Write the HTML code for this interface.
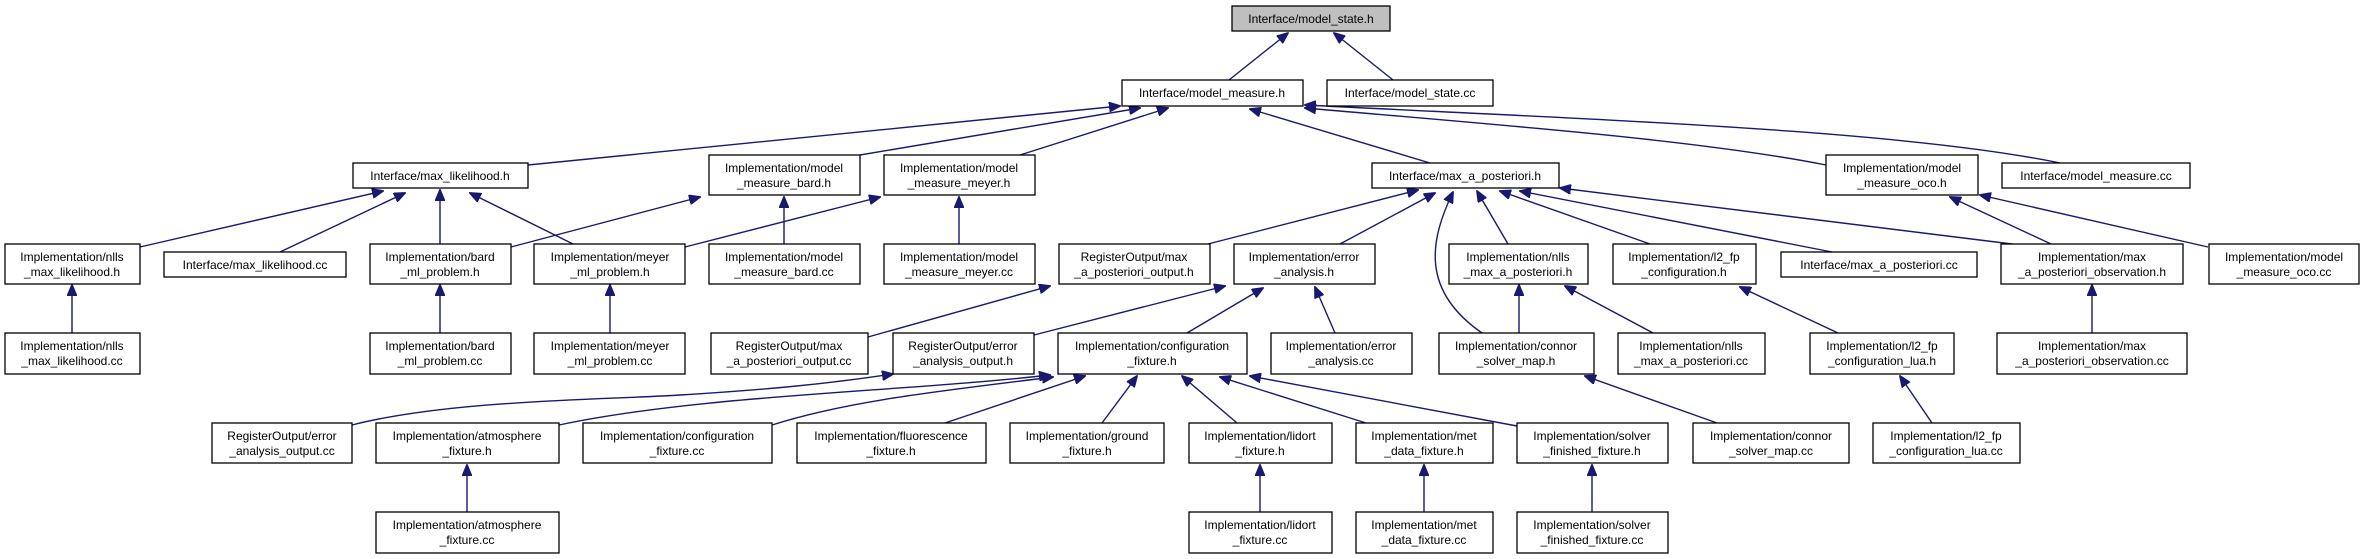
<!DOCTYPE html>
<html><head><meta charset="utf-8"><style>
html,body{margin:0;padding:0;background:#fff;}
svg{display:block;}
text{font-family:"Liberation Sans",sans-serif;font-size:12px;fill:#000;text-anchor:middle;}
rect{fill:#fff;stroke:#000;stroke-width:1.3;}
.e{fill:none;stroke:#191970;stroke-width:1.4;}
</style></head><body>
<svg width="2361" height="559" viewBox="0 0 2361 559" xmlns="http://www.w3.org/2000/svg">
<defs><marker id="a" markerWidth="12" markerHeight="10" refX="11" refY="5" orient="auto" markerUnits="userSpaceOnUse"><path d="M0,0 L12,5 L0,10 z" fill="#191970" stroke="#191970"/></marker></defs>
<g class="edges">
<path class="e" marker-end="url(#a)" d="M1229,80 L1288,33"/>
<path class="e" marker-end="url(#a)" d="M1393,80 L1334,33"/>
<path class="e" marker-end="url(#a)" d="M528,165 L1120,106"/>
<path class="e" marker-end="url(#a)" d="M860,155 L1140,108"/>
<path class="e" marker-end="url(#a)" d="M1020,155 L1168,108"/>
<path class="e" marker-end="url(#a)" d="M1430,163 L1250,109"/>
<path class="e" marker-end="url(#a)" d="M1826,165 C1700,140 1500,125 1305,108"/>
<path class="e" marker-end="url(#a)" d="M2060,163 C1900,130 1600,120 1305,105"/>
<path class="e" marker-end="url(#a)" d="M140,247 L383,191"/>
<path class="e" marker-end="url(#a)" d="M280,252 L405,193"/>
<path class="e" marker-end="url(#a)" d="M440,244 L440,190"/>
<path class="e" marker-end="url(#a)" d="M573,244 L470,193"/>
<path class="e" marker-end="url(#a)" d="M511,247 L700,197"/>
<path class="e" marker-end="url(#a)" d="M784,244 L784,197"/>
<path class="e" marker-end="url(#a)" d="M685,247 L880,197"/>
<path class="e" marker-end="url(#a)" d="M959,244 L959,197"/>
<path class="e" marker-end="url(#a)" d="M1208,244 L1418,190"/>
<path class="e" marker-end="url(#a)" d="M1340,244 L1435,193"/>
<path class="e" marker-end="url(#a)" d="M1482,333 C1420,290 1430,240 1453,192"/>
<path class="e" marker-end="url(#a)" d="M1508,244 L1477,191"/>
<path class="e" marker-end="url(#a)" d="M1650,244 L1500,191"/>
<path class="e" marker-end="url(#a)" d="M1832,252 L1520,191"/>
<path class="e" marker-end="url(#a)" d="M2020,245 L1560,188"/>
<path class="e" marker-end="url(#a)" d="M72,333 L72,285"/>
<path class="e" marker-end="url(#a)" d="M440,333 L440,285"/>
<path class="e" marker-end="url(#a)" d="M610,333 L610,285"/>
<path class="e" marker-end="url(#a)" d="M868,337 L1050,286"/>
<path class="e" marker-end="url(#a)" d="M1034,335 L1225,286"/>
<path class="e" marker-end="url(#a)" d="M1187,333 L1263,288"/>
<path class="e" marker-end="url(#a)" d="M1335,333 L1315,287"/>
<path class="e" marker-end="url(#a)" d="M1519,333 L1519,285"/>
<path class="e" marker-end="url(#a)" d="M1653,333 L1565,286"/>
<path class="e" marker-end="url(#a)" d="M1838,333 L1740,287"/>
<path class="e" marker-end="url(#a)" d="M2092,333 L2092,285"/>
<path class="e" marker-end="url(#a)" d="M2051,244 L1950,197"/>
<path class="e" marker-end="url(#a)" d="M2208,247 L1980,195"/>
<path class="e" marker-end="url(#a)" d="M352,425 C450,400 600,400 680,395 C760,390 820,385 893,374"/>
<path class="e" marker-end="url(#a)" d="M559,425 C700,395 900,392 1050,375"/>
<path class="e" marker-end="url(#a)" d="M772,425 C850,400 950,390 1053,377"/>
<path class="e" marker-end="url(#a)" d="M945,423 L1085,376"/>
<path class="e" marker-end="url(#a)" d="M1102,423 L1137,376"/>
<path class="e" marker-end="url(#a)" d="M1237,423 L1182,376"/>
<path class="e" marker-end="url(#a)" d="M1366,423 L1220,377"/>
<path class="e" marker-end="url(#a)" d="M1517,426 L1250,376"/>
<path class="e" marker-end="url(#a)" d="M1717,423 L1585,376"/>
<path class="e" marker-end="url(#a)" d="M1932,423 L1900,376"/>
<path class="e" marker-end="url(#a)" d="M467,512 L467,465"/>
<path class="e" marker-end="url(#a)" d="M1260,512 L1260,465"/>
<path class="e" marker-end="url(#a)" d="M1424,512 L1424,465"/>
<path class="e" marker-end="url(#a)" d="M1592,512 L1592,465"/>
</g>
<!-- Row 0 -->
<rect x="1232" y="6" width="158" height="25" style="fill:#bfbfbf"/><text x="1311" y="23">Interface/model_state.h</text>
<!-- Row 1 -->
<rect x="1122" y="80" width="181" height="26"/><text x="1212" y="97">Interface/model_measure.h</text>
<rect x="1327" y="80" width="166" height="26"/><text x="1410" y="97">Interface/model_state.cc</text>
<!-- Row 2 -->
<rect x="353" y="163" width="175" height="25"/><text x="440" y="180">Interface/max_likelihood.h</text>
<rect x="709" y="155" width="151" height="40"/><text x="784" y="172">Implementation/model</text><text x="784" y="187">_measure_bard.h</text>
<rect x="884" y="155" width="151" height="40"/><text x="959" y="172">Implementation/model</text><text x="959" y="187">_measure_meyer.h</text>
<rect x="1372" y="163" width="187" height="25"/><text x="1465" y="180">Interface/max_a_posteriori.h</text>
<rect x="1826" y="155" width="152" height="40"/><text x="1902" y="172">Implementation/model</text><text x="1902" y="187">_measure_oco.h</text>
<rect x="2002" y="163" width="188" height="25"/><text x="2096" y="180">Interface/model_measure.cc</text>
<!-- Row 3 -->
<rect x="5" y="244" width="135" height="40"/><text x="72" y="261">Implementation/nlls</text><text x="72" y="276">_max_likelihood.h</text>
<rect x="164" y="252" width="182" height="25"/><text x="255" y="269">Interface/max_likelihood.cc</text>
<rect x="370" y="244" width="141" height="40"/><text x="440" y="261">Implementation/bard</text><text x="440" y="276">_ml_problem.h</text>
<rect x="534" y="244" width="151" height="40"/><text x="610" y="261">Implementation/meyer</text><text x="610" y="276">_ml_problem.h</text>
<rect x="709" y="244" width="151" height="40"/><text x="784" y="261">Implementation/model</text><text x="784" y="276">_measure_bard.cc</text>
<rect x="884" y="244" width="151" height="40"/><text x="959" y="261">Implementation/model</text><text x="959" y="276">_measure_meyer.cc</text>
<rect x="1059" y="244" width="151" height="40"/><text x="1134" y="261">RegisterOutput/max</text><text x="1134" y="276">_a_posteriori_output.h</text>
<rect x="1234" y="244" width="141" height="40"/><text x="1304" y="261">Implementation/error</text><text x="1304" y="276">_analysis.h</text>
<rect x="1449" y="244" width="139" height="40"/><text x="1518" y="261">Implementation/nlls</text><text x="1518" y="276">_max_a_posteriori.h</text>
<rect x="1613" y="244" width="143" height="40"/><text x="1684" y="261">Implementation/l2_fp</text><text x="1684" y="276">_configuration.h</text>
<rect x="1781" y="252" width="196" height="25"/><text x="1879" y="269">Interface/max_a_posteriori.cc</text>
<rect x="2001" y="244" width="182" height="40"/><text x="2092" y="261">Implementation/max</text><text x="2092" y="276">_a_posteriori_observation.h</text>
<rect x="2209" y="244" width="150" height="40"/><text x="2284" y="261">Implementation/model</text><text x="2284" y="276">_measure_oco.cc</text>
<!-- Row 4 -->
<rect x="5" y="333" width="135" height="41"/><text x="72" y="350">Implementation/nlls</text><text x="72" y="365">_max_likelihood.cc</text>
<rect x="370" y="333" width="141" height="41"/><text x="440" y="350">Implementation/bard</text><text x="440" y="365">_ml_problem.cc</text>
<rect x="534" y="333" width="151" height="41"/><text x="610" y="350">Implementation/meyer</text><text x="610" y="365">_ml_problem.cc</text>
<rect x="711" y="333" width="157" height="41"/><text x="789" y="350">RegisterOutput/max</text><text x="789" y="365">_a_posteriori_output.cc</text>
<rect x="893" y="333" width="141" height="41"/><text x="963" y="350">RegisterOutput/error</text><text x="963" y="365">_analysis_output.h</text>
<rect x="1058" y="333" width="189" height="41"/><text x="1152" y="350">Implementation/configuration</text><text x="1152" y="365">_fixture.h</text>
<rect x="1271" y="333" width="141" height="41"/><text x="1341" y="350">Implementation/error</text><text x="1341" y="365">_analysis.cc</text>
<rect x="1439" y="333" width="155" height="41"/><text x="1516" y="350">Implementation/connor</text><text x="1516" y="365">_solver_map.h</text>
<rect x="1618" y="333" width="147" height="41"/><text x="1691" y="350">Implementation/nlls</text><text x="1691" y="365">_max_a_posteriori.cc</text>
<rect x="1810" y="333" width="144" height="41"/><text x="1882" y="350">Implementation/l2_fp</text><text x="1882" y="365">_configuration_lua.h</text>
<rect x="1997" y="333" width="190" height="41"/><text x="2092" y="350">Implementation/max</text><text x="2092" y="365">_a_posteriori_observation.cc</text>
<!-- Row 5 -->
<rect x="212" y="423" width="140" height="40"/><text x="282" y="440">RegisterOutput/error</text><text x="282" y="455">_analysis_output.cc</text>
<rect x="376" y="423" width="183" height="40"/><text x="467" y="440">Implementation/atmosphere</text><text x="467" y="455">_fixture.h</text>
<rect x="583" y="423" width="189" height="40"/><text x="677" y="440">Implementation/configuration</text><text x="677" y="455">_fixture.cc</text>
<rect x="797" y="423" width="189" height="40"/><text x="891" y="440">Implementation/fluorescence</text><text x="891" y="455">_fixture.h</text>
<rect x="1010" y="423" width="154" height="40"/><text x="1087" y="440">Implementation/ground</text><text x="1087" y="455">_fixture.h</text>
<rect x="1189" y="423" width="143" height="40"/><text x="1260" y="440">Implementation/lidort</text><text x="1260" y="455">_fixture.h</text>
<rect x="1356" y="423" width="137" height="40"/><text x="1424" y="440">Implementation/met</text><text x="1424" y="455">_data_fixture.h</text>
<rect x="1517" y="423" width="151" height="40"/><text x="1592" y="440">Implementation/solver</text><text x="1592" y="455">_finished_fixture.h</text>
<rect x="1693" y="423" width="156" height="40"/><text x="1771" y="440">Implementation/connor</text><text x="1771" y="455">_solver_map.cc</text>
<rect x="1873" y="423" width="147" height="40"/><text x="1946" y="440">Implementation/l2_fp</text><text x="1946" y="455">_configuration_lua.cc</text>
<!-- Row 6 -->
<rect x="376" y="512" width="183" height="41"/><text x="467" y="529">Implementation/atmosphere</text><text x="467" y="544">_fixture.cc</text>
<rect x="1189" y="512" width="143" height="41"/><text x="1260" y="529">Implementation/lidort</text><text x="1260" y="544">_fixture.cc</text>
<rect x="1356" y="512" width="137" height="41"/><text x="1424" y="529">Implementation/met</text><text x="1424" y="544">_data_fixture.cc</text>
<rect x="1517" y="512" width="151" height="41"/><text x="1592" y="529">Implementation/solver</text><text x="1592" y="544">_finished_fixture.cc</text>
</svg>
</body></html>
